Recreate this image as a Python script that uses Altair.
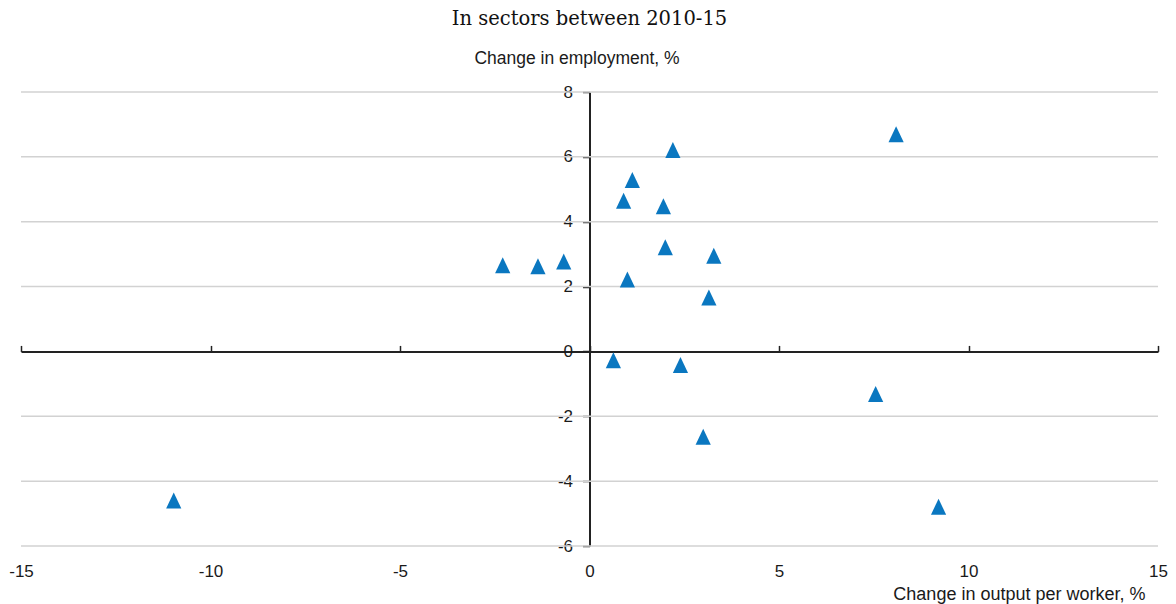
import altair as alt
import pandas as pd

# Data
output_per_worker = [-10.97, -2.29, -1.36, -0.68, 0.63, 0.90, 1.00, 1.13, 1.95,
                     2.00, 2.20, 2.40, 3.00, 3.15, 3.28, 7.55, 8.09, 9.21]
employment = [-4.60, 2.66, 2.63, 2.77, -0.27, 4.65, 2.22, 5.29, 4.48,
              3.21, 6.21, -0.42, -2.63, 1.66, 2.95, -1.31, 6.70, -4.79]

x_ticks = [-15, -10, -5, 0, 5, 10, 15]
y_ticks = [-6, -4, -2, 0, 2, 4, 6, 8]

W, H = 1137, 454
X_MIN, X_MAX = -15, 15
Y_MIN, Y_MAX = -6, 8
PAD_L, PAD_R = 13, 10

df = pd.DataFrame({"x": output_per_worker, "y": employment})
grid_df = pd.DataFrame({"g": [v for v in y_ticks if v != 0]})
tick_df = pd.DataFrame({"t": x_ticks})

xs = alt.Scale(domain=[X_MIN, X_MAX], nice=False, zero=False)
ys = alt.Scale(domain=[Y_MIN, Y_MAX], nice=False, zero=False)

LABEL_FONT = "Liberation Sans"
AX_COLOR = "#222222"
HYPHEN = "replace(datum.label, '\u2212', '-')"

grid = alt.Chart(grid_df).mark_rule(color="#d2d2d2", strokeWidth=1.5).encode(
    y=alt.Y("g:Q", scale=ys, axis=None)
)

# x axis line drawn at y = 0 with upward ticks
zero_offset = -(H * Y_MAX / (Y_MAX - Y_MIN))
x_line = alt.Chart(tick_df).mark_point(opacity=0).encode(
    x=alt.X("t:Q", scale=xs,
            axis=alt.Axis(orient="top", offset=zero_offset, values=x_ticks,
                          labels=False, title=None, grid=False,
                          domainColor=AX_COLOR, domainWidth=2,
                          tickColor=AX_COLOR, tickSize=6, tickWidth=1.5))
)

pts = alt.Chart(df).mark_point(
    shape="M0,-1L0.95,1L-0.95,1Z", filled=True, size=256,
    color="#0A77C0", opacity=1, strokeWidth=0
).encode(
    x=alt.X("x:Q", scale=xs,
            axis=alt.Axis(orient="bottom", values=x_ticks, domain=False,
                          ticks=False, grid=False, labelPadding=17,
                          labelFlush=False, labelOverlap=False,
                          labelExpr=HYPHEN,
                          title="Change in output per worker, %",
                          titleX=1145 - 8 - PAD_L, titleY=48, titleAlign="right",
                          titleBaseline="middle", titleAngle=0)),
    y=alt.Y("y:Q", scale=ys,
            axis=alt.Axis(orient="left", offset=-(W / 2), values=y_ticks,
                          grid=False, domainColor=AX_COLOR, domainWidth=2,
                          tickColor=AX_COLOR, tickSize=7, tickWidth=1.5,
                          labelPadding=10, labelFlush=False, labelOverlap=False,
                          labelExpr=HYPHEN,
                          title="Change in employment, %", titleAngle=0,
                          titleX=-13, titleY=-34, titleAlign="center",
                          titleBaseline="middle", titleFontSize=17.5)),
)

chart = alt.layer(grid, x_line, pts).resolve_axis(
    x="independent", y="independent"
).properties(
    width=W, height=H,
    autosize=alt.AutoSizeParams(type="none"),
    title=alt.TitleParams("In sectors between 2010-15", font="DejaVu Serif",
                          fontSize=19.5, fontWeight="normal", color="#111111",
                          anchor="middle", offset=20),
    padding={"top": 84, "left": PAD_L, "right": PAD_R, "bottom": 58},
).configure_view(stroke=None).configure_axis(
    labelFont=LABEL_FONT, labelFontSize=17, labelColor="#1a1a1a",
    titleFont=LABEL_FONT, titleFontSize=18, titleColor="#1a1a1a",
    titleFontWeight="normal",
)

chart.save("out.html", embed_options={"renderer": "svg", "actions": False})
